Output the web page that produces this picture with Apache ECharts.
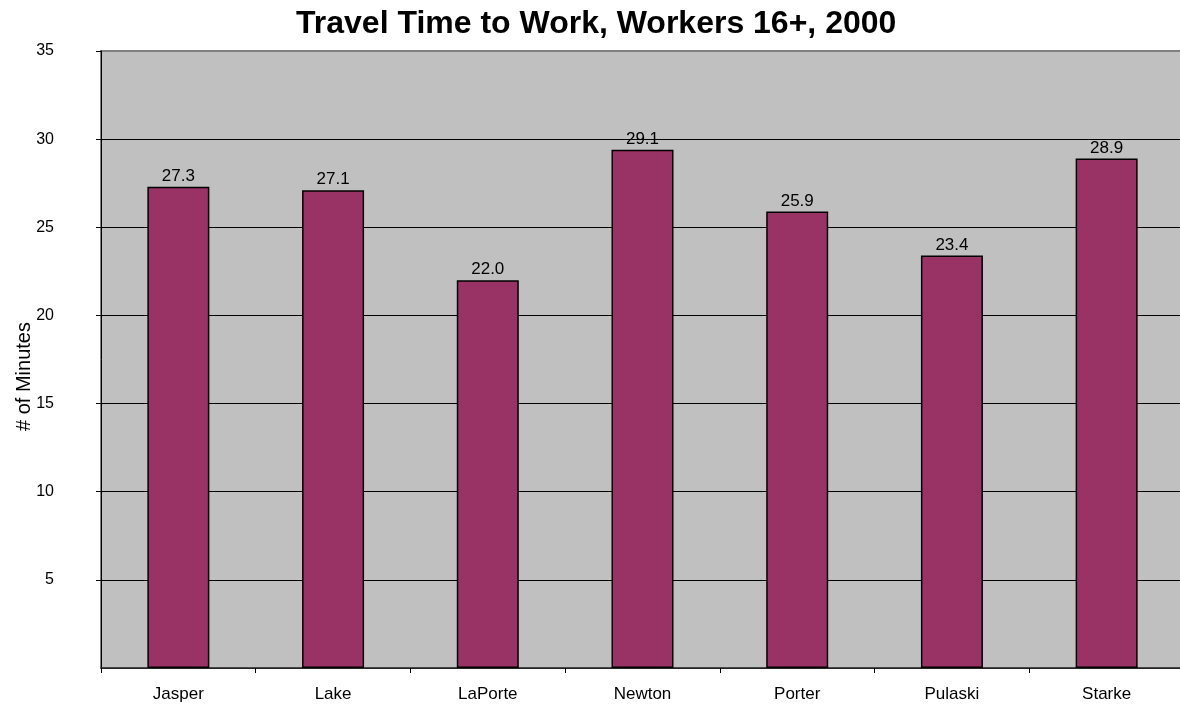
<!DOCTYPE html>
<html>
<head>
<meta charset="utf-8">
<script src="https://cdn.jsdelivr.net/npm/echarts@6/dist/echarts.min.js"></script>
<style>
html,body{margin:0;padding:0;background:#fff;}
#chart{width:1180px;height:704px;}
</style>
</head>
<body>
<div id="chart"></div>
<script>
var categories = ['Jasper', 'Lake', 'LaPorte', 'Newton', 'Porter', 'Pulaski', 'Starke'];
var barValues = [27.3, 27.1, 22.0, 29.4, 25.9, 23.4, 28.9];
var valueLabels = ['27.3', '27.1', '22.0', '29.1', '25.9', '23.4', '28.9'];
var titleText = 'Travel Time to Work, Workers 16+, 2000';
var yAxisName = '# of Minutes';

var chart = echarts.init(document.getElementById('chart'));
var font = '"Liberation Sans", Arial, sans-serif';
chart.setOption({
  animation: false,
  title: {
    text: titleText,
    left: 296,
    top: 8,
    padding: 0,
    textStyle: {fontFamily: font, fontSize: 32, fontWeight: 'bold', color: '#000'}
  },
  grid: {
    left: 101, right: -4, top: 51, bottom: 36,
    outerBoundsMode: 'none',
    containLabel: false,
    show: true, backgroundColor: '#C0C0C0', borderColor: '#808080', borderWidth: 2
  },
  xAxis: {
    type: 'category',
    data: categories,
    axisLine: {show: true, lineStyle: {color: '#333', width: 1.5}},
    axisTick: {show: true, alignWithLabel: false, length: 5, lineStyle: {color: '#000'}},
    axisLabel: {fontFamily: font, fontSize: 17, color: '#000', margin: 18}
  },
  yAxis: {
    type: 'value',
    min: 0, max: 35, interval: 5,
    name: yAxisName,
    nameLocation: 'middle',
    nameGap: 67,
    nameMoveOverlap: false,
    nameTextStyle: {fontFamily: font, fontSize: 20, color: '#000', padding: [0, 34, 0, 0]},
    axisLine: {show: true, lineStyle: {color: '#000', width: 1}},
    axisTick: {show: true, length: 5, lineStyle: {color: '#000'}},
    axisLabel: {fontFamily: font, fontSize: 16, color: '#000', margin: 47, showMinLabel: false},
    splitLine: {show: true, lineStyle: {color: ['#000', '#000', '#000', '#000', '#000', '#000', '#000', '#808080'], width: 1}}
  },
  series: [{
    type: 'bar',
    data: barValues,
    barWidth: 62,
    itemStyle: {color: '#993366', borderColor: '#000', borderWidth: 1.5},
    label: {
      show: true, position: 'top', distance: 2,
      fontFamily: font, fontSize: 17, color: '#000',
      formatter: function (p) { return valueLabels[p.dataIndex]; }
    }
  }]
});
</script>
</body>
</html>
